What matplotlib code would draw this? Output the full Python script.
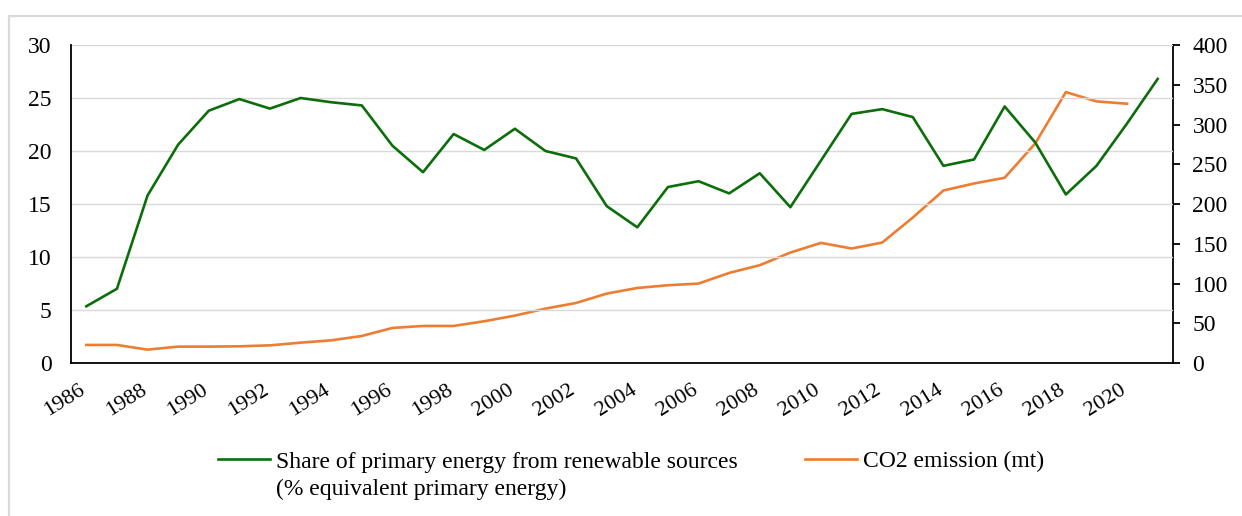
import matplotlib
matplotlib.use("Agg")
import matplotlib.pyplot as plt
from matplotlib.patches import Rectangle

plt.rcParams['font.family'] = ['Liberation Serif', 'DejaVu Serif']

years = list(range(1986, 2022))
renewable_share = [5.35, 7.0, 15.8, 20.6, 23.8, 24.9, 24.0, 25.0, 24.6, 24.3,
                   20.5, 18.0, 21.6, 20.1, 22.1, 20.0, 19.3, 14.8, 12.8, 16.6,
                   17.15, 16.0, 17.9, 14.7, 19.1, 23.5, 23.95, 23.2, 18.6, 19.2,
                   24.2, 20.8, 15.9, 18.6, 22.6, 26.8]
co2_years = list(range(1986, 2021))
co2_emission = [22.7, 22.7, 16.8, 20.6, 20.6, 21.0, 22.2, 25.6, 28.5, 34.0,
                44.1, 46.6, 46.6, 52.5, 59.6, 68.4, 75.5, 87.3, 94.4, 97.8,
                99.9, 113.3, 123.0, 138.9, 151.1, 144.0, 151.5, 183.0, 217.0, 225.8,
                233.0, 276.2, 340.8, 329.1, 326.1]
tick_years = list(range(1986, 2021, 2))
label_green = ['Share of primary energy from renewable sources',
               '(% equivalent primary energy)']
label_orange = 'CO2 emission (mt)'

green = '#0b6e0b'
orange = '#ed7d31'
grid_col = '#d9d9d9'
W, H = 1242, 516

fig = plt.figure(figsize=(W / 100, H / 100), dpi=100)
# light outer frame of the chart area
fig.patches.append(Rectangle((8.5 / W, -0.1), 1.2, 0.1 + (H - 16) / H,
                             transform=fig.transFigure, fill=False,
                             edgecolor=grid_col, linewidth=1.6))

ax = fig.add_axes([71 / W, 1 - 363 / H, (1173 - 71) / W, (363 - 45) / H])
ax2 = ax.twinx()

x_green = [years.index(y) for y in years]
x_co2 = [years.index(y) for y in co2_years]
l1, = ax.plot(x_green, renewable_share, color=green, linewidth=1.9)
l2, = ax2.plot(x_co2, co2_emission, color=orange, linewidth=1.9)
ax.set_zorder(ax2.get_zorder() + 1)
ax.patch.set_visible(False)

ax.set_xlim(-0.5, len(years) - 0.5)
ax.set_ylim(0, 30)
ax2.set_ylim(0, 400)
ax.set_yticks(range(0, 31, 5))
ax2.set_yticks(range(0, 401, 50))
ax.set_xticks([years.index(y) for y in tick_years])
ax.set_xticklabels([str(y) for y in tick_years], rotation=32, ha='right',
                   va='baseline', rotation_mode='anchor')

ax.yaxis.grid(True, color=grid_col, linewidth=1.0)
ax.set_axisbelow(True)

for a in (ax, ax2):
    for s in a.spines.values():
        s.set_visible(False)
ax.spines['left'].set_visible(True)
ax.spines['bottom'].set_visible(True)
ax2.spines['right'].set_visible(True)
for s in (ax.spines['left'], ax.spines['bottom'], ax2.spines['right']):
    s.set_color('black')
    s.set_linewidth(1.3)

ax.tick_params(axis='y', length=0, pad=14, labelsize=17)
ax.tick_params(axis='x', length=0, pad=21, labelsize=16)
ax2.tick_params(axis='y', length=5, width=1.3, direction='out', pad=9, labelsize=17)

leg = fig.legend([l1, l2], [label_green[0], label_orange],
                 loc='upper left', bbox_to_anchor=(218 / W, 1 - 451 / H),
                 ncol=2, frameon=False, fontsize=17, handlelength=2.2,
                 handletextpad=0.25, columnspacing=2.85, borderpad=0,
                 borderaxespad=0)

# second line of the green label, set under the first one
fig.canvas.draw()
bb = leg.get_texts()[0].get_window_extent()
fig.text(bb.x0 / W, (bb.y0 - 6) / H, label_green[1], fontsize=17,
         ha='left', va='top')

fig.savefig('out.png', dpi=100)
